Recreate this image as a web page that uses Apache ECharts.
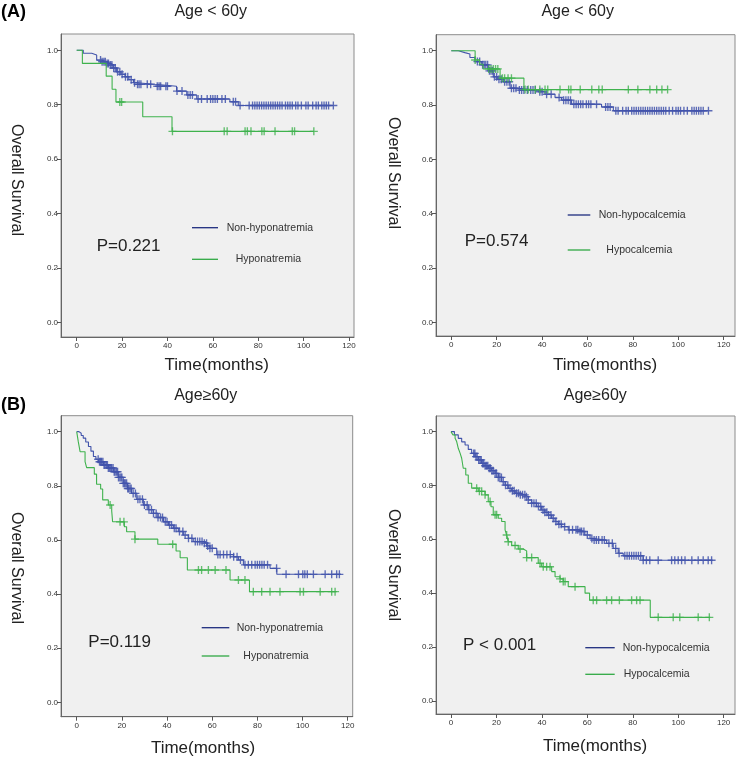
<!DOCTYPE html>
<html>
<head>
<meta charset="utf-8">
<script src="https://cdn.jsdelivr.net/npm/echarts@6/dist/echarts.min.js"></script>
<style>
html,body{margin:0;padding:0;background:#fff;}
#chart{width:743px;height:763px;}
</style>
</head>
<body>
<div id="chart"></div>
<script>
// ---------- DATA ----------
const xTicks = [0, 20, 40, 60, 80, 100, 120];
const yTicks = [0, 0.2, 0.4, 0.6, 0.8, 1.0];

// Panel 1: Age < 60y, sodium
const p1NonTime = [0, 2.9, 6.6, 8.8, 11, 13, 14.7, 16, 17.6, 19.5, 21.3, 23, 25, 26.4, 34.5, 44, 48.5, 52.9, 67.5, 71.2, 113.1];
const p1NonSurv = [1.0, 0.989, 0.983, 0.964, 0.958, 0.952, 0.946, 0.935, 0.921, 0.912, 0.903, 0.892, 0.881, 0.875, 0.868, 0.850, 0.836, 0.821, 0.811, 0.797, 0.797];
const p1NonCens = [10.5, 11.2, 12, 12.6, 13.4, 14, 14.8, 15.5, 16.3, 17, 18, 19, 20, 21.5, 22.5, 24, 25.5, 26.8, 27.5, 28.3, 31.1, 32.6, 35.5, 36.3, 37, 39.3, 40, 44.2, 46.4, 49, 50, 51, 53.5, 55, 57.5, 59, 60, 61, 62, 64, 65.5, 69, 70, 72, 76, 77.5, 78.5, 79.5, 80.5, 81.5, 82.5, 83.5, 84.5, 85.5, 86.5, 87.5, 88.5, 89.5, 90.5, 92, 93, 94, 95, 96.5, 97.5, 99, 101, 102, 104, 105.5, 106.5, 108, 109, 110, 111, 113.1];
const p1HypoTime = [0, 2.5, 13, 15.6, 17.3, 29.1, 42, 104.5];
const p1HypoSurv = [1.0, 0.952, 0.905, 0.857, 0.810, 0.756, 0.702, 0.702];
const p1HypoCens = [19, 19.8, 42.2, 65, 66.3, 74.2, 75.2, 76.8, 81.6, 82.6, 87.4, 95, 96, 104.5];

// Panel 2: Age < 60y, calcium
const p2NonTime = [0, 3.1, 6, 8.2, 10.4, 13.4, 16.3, 18.5, 20.5, 22.9, 25.9, 29.5, 38.3, 41.3, 45.7, 48.6, 53, 66.2, 71.4, 113.3];
const p2NonSurv = [1.0, 0.993, 0.988, 0.975, 0.960, 0.948, 0.926, 0.904, 0.895, 0.886, 0.862, 0.855, 0.849, 0.840, 0.828, 0.818, 0.803, 0.793, 0.779, 0.779];
const p2NonCens = [11.5, 12.5, 13.8, 14.5, 15.2, 16, 16.8, 17.5, 18.2, 19, 20, 21, 22, 23.5, 24.5, 25.5, 26.5, 27.5, 28.5, 30, 31, 32, 33.5, 35, 36, 37, 39, 40, 42, 44, 47.5, 49.5, 50.5, 51.5, 52.5, 54, 55, 56, 57, 58, 59.5, 60.5, 61.5, 64, 68, 69, 70, 72.5, 73.5, 75.5, 77, 78, 79.5, 80.5, 81.5, 82.5, 83.5, 84.5, 85.5, 86.5, 87.5, 88.5, 89.5, 90.5, 91.5, 92.5, 93.5, 94.5, 96, 97.5, 99, 100, 101, 102.5, 104, 106, 107, 108, 109, 110, 111, 113.3];
const p2HypoTime = [0, 10.5, 12.5, 14, 21.5, 32, 95.3];
const p2HypoSurv = [1.0, 0.966, 0.950, 0.933, 0.899, 0.857, 0.857];
const p2HypoCens = [10.5, 16.5, 17.5, 18.5, 19.5, 20.5, 22.5, 23.5, 25, 26.5, 32.5, 33.9, 37, 39, 41.3, 42.5, 47.9, 51.7, 52.7, 56.8, 61.9, 65, 66.5, 78, 82.2, 87.5, 90.5, 92.8, 95.3];

// Panel 3: Age >= 60y, sodium
const p3NonTime = [0, 1, 2, 2.9, 4, 5.2, 6.3, 7.4, 8.5, 9.6, 11.8, 14, 16.2, 18.4, 20.6, 22.5, 24.3, 26.6, 29.5, 31.7, 33.9, 36, 38.4, 40.6, 42.8, 45, 47.2, 49.4, 51.6, 56.1, 57.6, 59, 62, 69.4, 71.6, 73.8, 85.6, 88.6, 117];
const p3NonSurv = [1.0, 0.994, 0.986, 0.976, 0.962, 0.945, 0.928, 0.908, 0.898, 0.889, 0.877, 0.866, 0.852, 0.831, 0.809, 0.790, 0.772, 0.750, 0.729, 0.712, 0.698, 0.683, 0.667, 0.655, 0.643, 0.631, 0.618, 0.606, 0.594, 0.588, 0.578, 0.569, 0.546, 0.538, 0.526, 0.508, 0.495, 0.473, 0.473];
const p3NonCens = [9.5, 10.1, 10.6, 11, 11.6, 12.1, 12.5, 13.1, 13.6, 14, 14.6, 15.1, 15.5, 16.1, 16.6, 17, 17.6, 18.1, 18.5, 19.1, 19.6, 20, 20.6, 21.1, 21.5, 22.1, 22.6, 23, 23.6, 24.1, 25, 26, 27.1, 28, 29.1, 30, 31.2, 32, 33.1, 34, 35.2, 36, 37.1, 38, 39.2, 40, 41.1, 42, 43.2, 44, 45.5, 47, 48, 49.5, 51, 52.5, 53.5, 54.5, 55.5, 56.5, 57.5, 58, 59, 60, 62.5, 63.5, 65, 66.5, 68, 69.5, 71, 72.5, 74.5, 76, 77.5, 79, 80, 81, 82, 83, 84.5, 88.5, 92.7, 98.2, 100.1, 101, 102.1, 104.8, 110, 112.9, 115.1, 116.3];
const p3HypoTime = [0, 0.7, 1.5, 3.7, 4.4, 7.8, 8.8, 10.6, 11.5, 14, 15.5, 15.9, 21.1, 22.1, 25.8, 35.9, 44, 45.8, 49, 67.9, 76.5, 115.1];
const p3HypoSurv = [1.0, 0.963, 0.926, 0.889, 0.867, 0.843, 0.806, 0.788, 0.748, 0.729, 0.707, 0.667, 0.649, 0.630, 0.603, 0.584, 0.559, 0.534, 0.489, 0.452, 0.409, 0.409];
const p3HypoCens = [14.8, 19.2, 20.9, 25.8, 42.5, 53.9, 55.3, 58.3, 61.3, 66.1, 71.6, 74.5, 78.2, 81.9, 85.6, 90, 98.9, 100.4, 107.8, 112.9, 114.4];

// Panel 4: Age >= 60y, calcium
const p4NonTime = [0, 1.5, 3.2, 4.7, 6.2, 7.6, 9.1, 10.6, 12, 13.5, 15, 16.4, 17.9, 19.4, 20.8, 22.3, 23.8, 25.2, 26.7, 28.2, 30.4, 32.6, 34, 35.5, 37.7, 39.9, 41.3, 42.8, 44.3, 45.8, 47.2, 48.7, 51.6, 56, 58.9, 61.2, 62.6, 68.5, 71.4, 73.6, 75.8, 84.6, 115.2];
const p4NonSurv = [1.0, 0.988, 0.975, 0.962, 0.950, 0.934, 0.919, 0.907, 0.895, 0.882, 0.873, 0.864, 0.855, 0.845, 0.830, 0.814, 0.801, 0.789, 0.780, 0.771, 0.765, 0.758, 0.746, 0.734, 0.722, 0.709, 0.700, 0.690, 0.678, 0.666, 0.656, 0.647, 0.635, 0.629, 0.616, 0.603, 0.597, 0.585, 0.566, 0.548, 0.539, 0.522, 0.522];
const p4NonCens = [10, 10.5, 11, 11.5, 12.2, 12.8, 13.3, 13.9, 14.4, 15, 15.6, 16.2, 16.8, 17.3, 18, 18.6, 19.4, 20, 20.8, 21.5, 22.2, 23, 24, 25, 26, 27, 27.8, 28.8, 29.7, 30.5, 31.5, 32.5, 33.2, 34, 35.5, 36.5, 37.5, 38.5, 39.5, 40.5, 41.3, 42.2, 43, 44, 45, 46.2, 47.5, 48.5, 50, 52, 53.5, 55, 55.8, 56.8, 57.5, 58.5, 60, 62, 63, 64, 65, 66.5, 67.5, 69.5, 71, 72.5, 74, 76.5, 77.5, 78.5, 79.5, 80.5, 81.5, 82.5, 83.5, 84.6, 86, 87.5, 91.2, 97.1, 98.5, 100, 101.5, 103, 106, 108.8, 111, 113.2, 114.7];
const p4HypoTime = [0, 0.8, 1.8, 2.5, 3.2, 4, 4.7, 5.4, 6.5, 7.6, 9.1, 12, 15, 16.4, 17.6, 18.6, 20.8, 22.3, 23.8, 24.5, 25.2, 26.7, 29.6, 31.8, 33.3, 38.4, 39.9, 44.3, 45.8, 48, 49.4, 51.6, 59, 61, 87.7, 114.1];
const p4HypoSurv = [1.0, 0.988, 0.975, 0.963, 0.938, 0.920, 0.901, 0.864, 0.839, 0.808, 0.790, 0.778, 0.765, 0.740, 0.721, 0.691, 0.678, 0.666, 0.635, 0.616, 0.591, 0.577, 0.564, 0.557, 0.532, 0.511, 0.498, 0.480, 0.461, 0.453, 0.443, 0.424, 0.400, 0.374, 0.310, 0.310];
const p4HypoCens = [11.3, 12.5, 13.5, 15, 17.2, 19.4, 20.1, 24.5, 25.2, 28.2, 30.4, 33.3, 35.5, 39.2, 40.6, 42.1, 43.6, 48, 49.4, 50.2, 54.6, 62.6, 64.1, 68.5, 70.7, 74.1, 79.5, 81.7, 83.2, 91.2, 97.8, 100.7, 108.8, 113.7];

const titles = ['Age < 60y', 'Age < 60y', 'Age≥60y', 'Age≥60y'];
const nonNames = ['Non-hyponatremia', 'Non-hypocalcemia', 'Non-hyponatremia', 'Non-hypocalcemia'];
const hypoNames = ['Hyponatremia', 'Hypocalcemia', 'Hyponatremia', 'Hypocalcemia'];
const pTexts = ['P=0.221', 'P=0.574', 'P=0.119', 'P < 0.001'];

// ---------- LAYOUT ----------
const BLUE = '#4254ab';
const BLUE_LEG = '#1d2c7e';
const GREEN = '#3fb24d';
const GREEN_LEG = '#2fa843';
const FONT = "'Liberation Sans', Arial, sans-serif";

const panels = [
  {grid: {left: 61, top: 34, width: 293, height: 303}, xr: [-6.92, 122.2], yr: [-0.054, 1.06],
   non: [p1NonTime, p1NonSurv, p1NonCens], hypo: [p1HypoTime, p1HypoSurv, p1HypoCens],
   title: [210.7, 12], ylab: [16, 180], xlab: [216.7, 365],
   leg: {x1: 192, x2: 218, y1: 227.7, y2: 259.3, tx1: 226.7, tx2: 235.7}, p: [96.7, 246.7]},
  {grid: {left: 436, top: 34.7, width: 299, height: 301.3}, xr: [-6.74, 125], yr: [-0.050, 1.059],
   non: [p2NonTime, p2NonSurv, p2NonCens], hypo: [p2HypoTime, p2HypoSurv, p2HypoCens],
   title: [577.7, 12], ylab: [393.7, 173], xlab: [605, 365],
   leg: {x1: 567.7, x2: 590.3, y1: 215, y2: 250, tx1: 598.7, tx2: 606.3}, p: [464.7, 241.7]},
  {grid: {left: 61, top: 415.7, width: 291.7, height: 301}, xr: [-6.95, 122.2], yr: [-0.053, 1.059],
   non: [p3NonTime, p3NonSurv, p3NonCens], hypo: [p3HypoTime, p3HypoSurv, p3HypoCens],
   title: [205.7, 396], ylab: [16, 568], xlab: [203, 748],
   leg: {x1: 201.7, x2: 229.3, y1: 627.7, y2: 656, tx1: 236.7, tx2: 243.3}, p: [88.3, 642.3]},
  {grid: {left: 436, top: 416, width: 299, height: 298}, xr: [-6.6, 125], yr: [-0.049, 1.058],
   non: [p4NonTime, p4NonSurv, p4NonCens], hypo: [p4HypoTime, p4HypoSurv, p4HypoCens],
   title: [595.3, 395.7], ylab: [393.7, 565], xlab: [595, 746.7],
   leg: {x1: 585.3, x2: 614.7, y1: 647.7, y2: 674.3, tx1: 622.7, tx2: 623.7}, p: [463, 645]}
];

function kmPoints(times, surv) {
  return times.map((t, i) => [t, surv[i]]);
}
function censorPoints(cens, times, surv) {
  return cens.map(c => {
    let s = surv[0];
    for (let i = 0; i < times.length; i++) { if (times[i] <= c + 1e-9) s = surv[i]; }
    return [c, s];
  });
}
const PLUS = 'path://M-0.17,-1L0.17,-1L0.17,-0.17L1,-0.17L1,0.17L0.17,0.17L0.17,1L-0.17,1L-0.17,0.17L-1,0.17L-1,-0.17L-0.17,-0.17Z';

const grids = [], xAxes = [], yAxes = [], series = [], graphics = [];
panels.forEach((p, i) => {
  grids.push(Object.assign({show: true, backgroundColor: '#f0f0f0', borderColor: '#8c8c8c', borderWidth: 1}, p.grid));
  xAxes.push({
    type: 'value', gridIndex: i, min: p.xr[0], max: p.xr[1],
    splitLine: {show: false},
    axisLine: {show: true, onZero: false, lineStyle: {color: '#666', width: 1}},
    axisTick: {show: true, length: 4, lineStyle: {color: '#555'}, customValues: xTicks},
    axisLabel: {show: true, fontSize: 8, color: '#333', fontFamily: FONT, margin: 5, customValues: xTicks}
  });
  yAxes.push({
    type: 'value', gridIndex: i, min: p.yr[0], max: p.yr[1],
    splitLine: {show: false},
    axisLine: {show: true, onZero: false, lineStyle: {color: '#666', width: 1}},
    axisTick: {show: true, length: 4, lineStyle: {color: '#555'}, customValues: yTicks},
    axisLabel: {show: true, fontSize: 8, color: '#333', fontFamily: FONT, margin: 3, customValues: yTicks,
      formatter: v => v.toFixed(1)}
  });
  series.push({
    type: 'line', xAxisIndex: i, yAxisIndex: i, step: 'end', symbol: 'none', silent: true,
    lineStyle: {color: BLUE, width: 1.1}, data: kmPoints(p.non[0], p.non[1]), z: 3
  });
  series.push({
    type: 'scatter', xAxisIndex: i, yAxisIndex: i, symbol: PLUS, symbolSize: 8, silent: true,
    itemStyle: {color: BLUE, opacity: 0.85}, data: censorPoints(p.non[2], p.non[0], p.non[1]), z: 3
  });
  series.push({
    type: 'line', xAxisIndex: i, yAxisIndex: i, step: 'end', symbol: 'none', silent: true,
    lineStyle: {color: GREEN, width: 1.1}, data: kmPoints(p.hypo[0], p.hypo[1]), z: 4
  });
  series.push({
    type: 'scatter', xAxisIndex: i, yAxisIndex: i, symbol: PLUS, symbolSize: 8, silent: true,
    itemStyle: {color: GREEN}, data: censorPoints(p.hypo[2], p.hypo[0], p.hypo[1]), z: 4
  });

  graphics.push({type: 'text', x: p.title[0], y: p.title[1], z: 10,
    style: {text: titles[i], font: '16px ' + FONT, fill: '#222', align: 'center', verticalAlign: 'middle'}});
  graphics.push({type: 'text', x: p.ylab[0], y: p.ylab[1], rotation: -Math.PI / 2, z: 10,
    style: {text: 'Overall Survival', font: '16px ' + FONT, fill: '#222', align: 'center', verticalAlign: 'middle'}});
  graphics.push({type: 'text', x: p.xlab[0], y: p.xlab[1], z: 10,
    style: {text: 'Time(months)', font: '17px ' + FONT, fill: '#222', align: 'center', verticalAlign: 'middle'}});
  graphics.push({type: 'line', z: 10, shape: {x1: p.leg.x1, y1: p.leg.y1, x2: p.leg.x2, y2: p.leg.y1},
    style: {stroke: BLUE_LEG, lineWidth: 1.3}});
  graphics.push({type: 'line', z: 10, shape: {x1: p.leg.x1, y1: p.leg.y2, x2: p.leg.x2, y2: p.leg.y2},
    style: {stroke: GREEN_LEG, lineWidth: 1.3}});
  graphics.push({type: 'text', x: p.leg.tx1, y: p.leg.y1, z: 10,
    style: {text: nonNames[i], font: '10.5px ' + FONT, fill: '#333', align: 'left', verticalAlign: 'middle'}});
  graphics.push({type: 'text', x: p.leg.tx2, y: p.leg.y2, z: 10,
    style: {text: hypoNames[i], font: '10.5px ' + FONT, fill: '#333', align: 'left', verticalAlign: 'middle'}});
  graphics.push({type: 'text', x: p.p[0], y: p.p[1], z: 10,
    style: {text: pTexts[i], font: '17px ' + FONT, fill: '#222', align: 'left', verticalAlign: 'middle'}});
});
graphics.push({type: 'text', x: 1, y: 12, z: 10,
  style: {text: '(A)', font: 'bold 18px ' + FONT, fill: '#000', align: 'left', verticalAlign: 'middle'}});
graphics.push({type: 'text', x: 1, y: 405, z: 10,
  style: {text: '(B)', font: 'bold 18px ' + FONT, fill: '#000', align: 'left', verticalAlign: 'middle'}});

const chart = echarts.init(document.getElementById('chart'), null, {renderer: 'canvas'});
chart.setOption({
  animation: false,
  backgroundColor: '#ffffff',
  grid: grids, xAxis: xAxes, yAxis: yAxes, series: series, graphic: graphics
});
</script>
</body>
</html>
